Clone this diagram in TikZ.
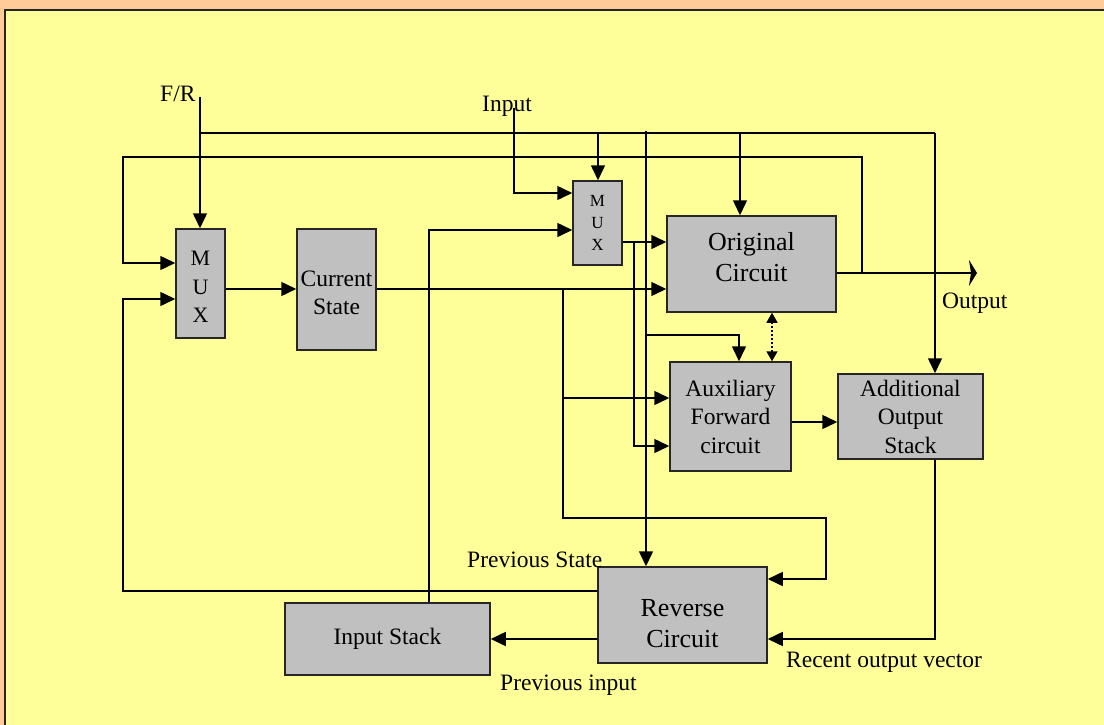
\documentclass[tikz,border=0pt]{standalone}
\usepackage{fontspec}
\setmainfont{Liberation Serif}
\usetikzlibrary{arrows.meta}
\definecolor{bgorange}{HTML}{FFCC99}
\definecolor{bgyellow}{HTML}{FFFF99}
\definecolor{boxgray}{HTML}{C0C0C0}
\begin{document}
\begin{tikzpicture}[x=1pt,y=-1pt,
  box/.style={draw=black!85, fill=boxgray, line width=1.5pt, inner sep=0pt, align=center, font=\fontsize{23.5}{28.5}\selectfont},
  bigbox/.style={box, font=\fontsize{26}{31}\selectfont},
  wire/.style={line width=1.5pt},
  arr/.style={wire, -{Triangle[length=15pt,width=14pt]}},
  outarr/.style={wire, -{Stealth[length=8pt,width=26pt,inset=2pt]}},
  dotarr/.style={wire, dash pattern=on 2pt off 2pt, {Triangle[length=10pt,width=11pt]}-{Triangle[length=10pt,width=11pt]}},
  lbl/.style={anchor=base west, inner sep=0pt, font=\fontsize{23.5}{28}\selectfont},
]
\fill[bgorange] (0,0) rectangle (1104,725);
\useasboundingbox (0,0) rectangle (1104,725);
\fill[bgyellow] (5,10) rectangle (1104,725);
\draw[line width=1.5pt, black!85] (5,725) -- (5,10) -- (1104,10);

% boxes
\node[box, minimum width=49pt, minimum height=109pt, font=\fontsize{22}{28.5}\selectfont] (mux1) at (200.5,283.5) {\rule{0pt}{21pt}M\\U\\X};
\node[box, minimum width=79pt, minimum height=121pt] (cs) at (336.5,289.5) {\rule{0pt}{22pt}Current\\State};
\node[box, minimum width=49pt, minimum height=84pt, font=\fontsize{17}{22}\selectfont] (mux2) at (597.5,223) {M\\U\\X};
\node[bigbox, minimum width=169pt, minimum height=96pt] (orig) at (751.5,264) {Original\\Circuit\rule[-14pt]{0pt}{14pt}};
\node[box, minimum width=121pt, minimum height=109pt] (aux) at (730.5,416.5) {Auxiliary\\Forward\\circuit};
\node[box, minimum width=145pt, minimum height=85pt] (aos) at (910.5,416.5) {Additional\\Output\\Stack};
\node[bigbox, minimum width=169pt, minimum height=96pt] (rev) at (682.5,615) {\rule{0pt}{35pt}Reverse\\Circuit};
\node[box, minimum width=205pt, minimum height=72pt] (ist) at (387.5,639) {Input Stack};

% labels
\node[lbl] (lfr) at (160,102) {F/R};
\node[lbl] (lin) at (482,111) {Input};
\node[lbl] (lout) at (942,308) {Output};
\node[lbl] (lps) at (467,567) {Previous State};
\node[lbl] (lpi) at (500,690) {Previous input};
\node[lbl] (lrov) at (786,667) {Recent output vector};

% coordinates
\coordinate (frtop) at (200,97);
\coordinate (j1) at (200,133);
\coordinate (j2) at (598,133);
\coordinate (j3) at (740,133);
\coordinate (j4) at (646,131);
\coordinate (c935) at (935,133);
\coordinate (intop) at (514,108);
\coordinate (outend) at (977,273);

% F/R
\draw[arr] (frtop) -- (frtop |- mux1.north);
\draw[wire] (j1) -- (c935);
\draw[arr] (c935) -- (c935 |- aos.north);
\draw[arr] (j2) -- (j2 |- mux2.north);
\draw[arr] (j3) -- (j3 |- orig.north);
\draw[arr] (j4) -- (j4 |- rev.north);
\draw[arr] (646,335) -| (aux.north -| 739,0);

% output
\draw[outarr] (orig.east |- outend) -- (outend);
\draw[arr] (862,273) |- (123,157) |- (mux1.west |- 0,263);
\draw[arr] (rev.west |- 0,591) -| (123,299) -- (mux1.west |- 0,299);

% state path
\draw[arr] (mux1.east |- 0,289) -- (cs.west |- 0,289);
\draw[arr] (cs.east |- 0,289) -- (orig.west |- 0,289);
\draw[arr] (563,289) -- (563,518) -- (826,518) -- (826,579) -- (rev.east |- 0,579);
\draw[arr] (563,398) -- (aux.west |- 0,398);

% input path
\draw[arr] (ist.north -| 429,0) |- (mux2.west |- 0,230);
\draw[arr] (intop) |- (mux2.west |- 0,193);
\draw[arr] (mux2.east |- 0,242) -- (orig.west |- 0,242);
\draw[arr] (634,242) |- (aux.west |- 0,446);

% others
\draw[dotarr] (aux.north -| 772,0) -- (orig.south -| 772,0);
\draw[arr] (aux.east |- 0,422) -- (aos.west |- 0,422);
\draw[arr] (aos.south -| 935,0) |- (rev.east |- 0,639);
\draw[arr] (rev.west |- 0,639) -- (ist.east |- 0,639);
\end{tikzpicture}
\end{document}
